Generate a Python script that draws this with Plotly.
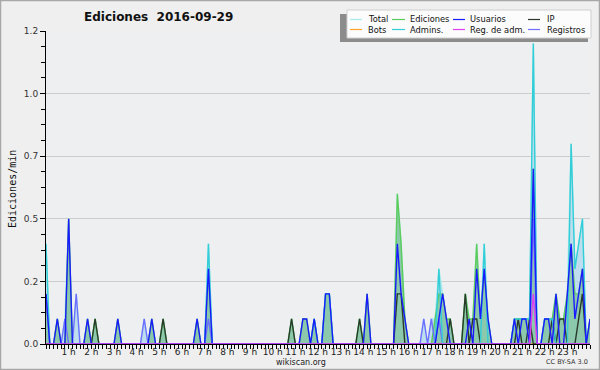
import plotly.graph_objects as go

# ---- data: edits per minute, 10-minute bins from 00:00 to 24:00 (145 points) ----
MINUTES = list(range(0, 1441, 10))
HOUR_TICKS = list(range(1, 24))
HOUR_LABELS = [f"{h} h" for h in HOUR_TICKS]
Y_TICKS = [0, 0.25, 0.5, 0.75, 1.0, 1.25]
Y_LABELS = ["0.0", "0.2", "0.5", "0.7", "1.0", "1.2"]

total = [
    .4, 0, 0, .1, 0, .1, .5, 0, .2, 0, 0, .1,
    0, .1, 0, 0, 0, 0, 0, .1, 0, 0, 0, 0,
    0, 0, .1, 0, .1, 0, 0, .1, 0, 0, 0, 0,
    0, 0, 0, 0, .1, 0, 0, .4, 0, 0, 0, 0,
    0, 0, 0, 0, 0, 0, 0, 0, 0, 0, 0, 0,
    0, 0, 0, 0, 0, .1, 0, 0, .1, .1, 0, .1,
    0, 0, .2, .2, 0, 0, 0, 0, 0, 0, 0, .1,
    0, .2, 0, 0, 0, 0, 0, 0, 0, .6, .4, .1,
    0, 0, 0, 0, .1, 0, .1, .1, .3, .2, .1, .1,
    0, 0, 0, .2, .1, .1, .4, .1, .4, .1, 0, 0,
    0, 0, 0, 0, .1, .1, .1, .1, .1, 1.2, 0, 0,
    .1, .1, .1, .2, .1, .1, .2, .8, .3, .4, .5, 0,
    .1]
ediciones = [
    .2, 0, 0, .1, 0, 0, .5, 0, 0, 0, 0, .1,
    0, .1, 0, 0, 0, 0, 0, .1, 0, 0, 0, 0,
    0, 0, 0, 0, .1, 0, 0, .1, 0, 0, 0, 0,
    0, 0, 0, 0, .1, 0, 0, .3, 0, 0, 0, 0,
    0, 0, 0, 0, 0, 0, 0, 0, 0, 0, 0, 0,
    0, 0, 0, 0, 0, .1, 0, 0, .1, .1, 0, .1,
    0, 0, .2, .2, 0, 0, 0, 0, 0, 0, 0, .1,
    0, .2, 0, 0, 0, 0, 0, 0, 0, .6, .4, .1,
    0, 0, 0, 0, 0, 0, 0, .1, .2, .2, .1, .1,
    0, 0, 0, .2, .1, .1, .4, .1, .3, .1, 0, 0,
    0, 0, 0, 0, .1, .1, .1, .1, .1, .7, 0, 0,
    .1, .1, .1, .2, .1, .1, .2, .4, .2, .2, .3, 0,
    .1]
usuarios = [
    .2, 0, 0, .1, 0, 0, .5, 0, 0, 0, 0, .1,
    0, 0, 0, 0, 0, 0, 0, .1, 0, 0, 0, 0,
    0, 0, 0, 0, .1, 0, 0, 0, 0, 0, 0, 0,
    0, 0, 0, 0, .1, 0, 0, .3, 0, 0, 0, 0,
    0, 0, 0, 0, 0, 0, 0, 0, 0, 0, 0, 0,
    0, 0, 0, 0, 0, 0, 0, 0, .1, .1, 0, .1,
    0, 0, .2, .2, 0, 0, 0, 0, 0, 0, 0, 0,
    0, .2, 0, 0, 0, 0, 0, 0, 0, .4, .2, .1,
    0, 0, 0, 0, 0, 0, 0, 0, .1, .2, .1, 0,
    0, 0, 0, 0, .1, 0, .3, .1, .3, .1, 0, 0,
    0, 0, 0, 0, .1, 0, .1, .1, 0, .7, 0, 0,
    .1, .1, 0, .2, 0, 0, .2, .4, .1, .2, .3, 0,
    .1]
ip = [
    0, 0, 0, 0, 0, 0, 0, 0, 0, 0, 0, 0,
    0, .1, 0, 0, 0, 0, 0, 0, 0, 0, 0, 0,
    0, 0, 0, 0, 0, 0, 0, .1, 0, 0, 0, 0,
    0, 0, 0, 0, 0, 0, 0, 0, 0, 0, 0, 0,
    0, 0, 0, 0, 0, 0, 0, 0, 0, 0, 0, 0,
    0, 0, 0, 0, 0, .1, 0, 0, 0, 0, 0, 0,
    0, 0, 0, 0, 0, 0, 0, 0, 0, 0, 0, .1,
    0, 0, 0, 0, 0, 0, 0, 0, 0, .2, .2, 0,
    0, 0, 0, 0, 0, 0, 0, 0, 0, 0, 0, .1,
    0, 0, 0, .2, 0, .1, .1, 0, 0, 0, 0, 0,
    0, 0, 0, 0, 0, .1, 0, 0, .1, 0, 0, 0,
    0, 0, .1, 0, .1, .1, 0, 0, 0, .1, .2, 0,
    0]
bots = [0] * 145
admins = [
    .4, 0, 0, 0, 0, 0, 0, 0, 0, 0, 0, 0,
    0, 0, 0, 0, 0, 0, 0, 0, 0, 0, 0, 0,
    0, 0, 0, 0, 0, 0, 0, 0, 0, 0, 0, 0,
    0, 0, 0, 0, 0, 0, 0, .4, 0, 0, 0, 0,
    0, 0, 0, 0, 0, 0, 0, 0, 0, 0, 0, 0,
    0, 0, 0, 0, 0, 0, 0, 0, 0, 0, 0, .1,
    0, 0, .2, .2, 0, 0, 0, 0, 0, 0, 0, 0,
    0, 0, 0, 0, 0, 0, 0, 0, 0, 0, 0, 0,
    0, 0, 0, 0, 0, 0, 0, 0, .3, 0, 0, 0,
    0, 0, 0, 0, 0, 0, 0, 0, .4, 0, 0, 0,
    0, 0, 0, 0, .1, .1, .1, .1, .1, 1.2, 0, 0,
    .1, .1, .1, 0, 0, 0, 0, .8, .3, .4, .5, 0,
    0]
reg_adm = [0] * 129 + [.2] + [0] * 15
registros = [
    .2, 0, 0, 0, 0, .1, 0, 0, .2, 0, 0, 0,
    0, 0, 0, 0, 0, 0, 0, 0, 0, 0, 0, 0,
    0, 0, .1, 0, 0, 0, 0, 0, 0, 0, 0, 0,
    0, 0, 0, 0, 0, 0, 0, .1, 0, 0, 0, 0,
    0, 0, 0, 0, 0, 0, 0, 0, 0, 0, 0, 0,
    0, 0, 0, 0, 0, 0, 0, 0, 0, 0, 0, 0,
    0, 0, 0, 0, 0, 0, 0, 0, 0, 0, 0, 0,
    0, 0, 0, 0, 0, 0, 0, 0, 0, 0, 0, 0,
    0, 0, 0, 0, .1, 0, .1, 0, .1, 0, 0, 0,
    0, 0, 0, 0, 0, 0, 0, 0, 0, 0, 0, 0,
    0, 0, 0, 0, 0, 0, 0, 0, 0, .5, 0, 0,
    0, 0, 0, 0, 0, 0, 0, 0, 0, 0, 0, 0,
    0]

LEGEND_LABELS = ["Total", "Ediciones", "Usuarios", "IP",
                 "Bots", "Admins.", "Reg. de adm.", "Registros"]
COLORS = {"Total": "#a6ecec", "Ediciones": "#5ccc5c", "Usuarios": "#1a1aff",
          "IP": "#2a3a2a", "Bots": "#ffa030", "Admins.": "#33cdd8",
          "Reg. de adm.": "#e040f0", "Registros": "#6f6fff"}

hours = [m / 60 for m in MINUTES]

fig = go.Figure()
fig.add_trace(go.Scatter(x=hours, y=total, mode="lines", fill="tozeroy",
                         fillcolor="rgba(178,216,238,0.8)",
                         line=dict(color=COLORS["Total"], width=1.4)))
fig.add_trace(go.Scatter(x=hours, y=ediciones, mode="lines", fill="tozeroy",
                         fillcolor="rgba(80,175,90,0.45)",
                         line=dict(color=COLORS["Ediciones"], width=1.4)))
series = [("Bots", bots), ("IP", ip), ("Registros", registros),
          ("Admins.", admins), ("Usuarios", usuarios), ("Reg. de adm.", reg_adm)]
for name, vals in series:
    fig.add_trace(go.Scatter(x=hours, y=vals, mode="lines",
                             line=dict(color=COLORS[name], width=1.4)))

# pixel helpers for decorations (plot area 46..590 x 31..344)
L, R, T, B = 46, 590, 31, 344
def px(x):
    return (x - L) / (R - L)
def py(y):
    return (B - y) / (B - T)

shapes = []
annotations = []
# outer frame
shapes.append(dict(type="rect", xref="paper", yref="paper", x0=px(0.5), x1=px(599.5),
                   y0=py(369.5), y1=py(0.5), line=dict(color="#a8a8a8", width=1.5)))
# legend shadow and box
shapes.append(dict(type="rect", xref="paper", yref="paper", x0=px(340), x1=px(588),
                   y0=py(42), y1=py(14), fillcolor="#8c8c8c", line=dict(width=0)))
shapes.append(dict(type="rect", xref="paper", yref="paper", x0=px(347), x1=px(591),
                   y0=py(38), y1=py(10), fillcolor="#fcfcfc",
                   line=dict(color="#cfcfcf", width=1)))
col_line = [(350, 362), (392, 405), (453, 465), (528, 540)]
col_text = [366, 408, 468, 545]
row_y = [19.5, 29.5]
for k, name in enumerate(LEGEND_LABELS):
    r, c = divmod(k, 4)
    shapes.append(dict(type="line", xref="paper", yref="paper",
                       x0=px(col_line[c][0]), x1=px(col_line[c][1]),
                       y0=py(row_y[r]), y1=py(row_y[r]),
                       line=dict(color=COLORS[name], width=1.2)))
    annotations.append(dict(text=name, xref="paper", yref="paper", x=px(col_text[c]),
                            y=py(row_y[r]), xanchor="left", yanchor="middle",
                            showarrow=False,
                            font=dict(family="DejaVu Sans", size=8.3, color="#111")))

annotations.append(dict(text="<b>Ediciones\u00a0 2016-09-29</b>", xref="paper", yref="paper",
                        x=px(158), y=py(17), xanchor="center", yanchor="middle",
                        showarrow=False,
                        font=dict(family="DejaVu Sans", size=12, color="#111")))
annotations.append(dict(text="Ediciones/min", xref="paper", yref="paper",
                        x=px(12), y=py(189), xanchor="center", yanchor="middle",
                        textangle=-90, showarrow=False,
                        font=dict(family="DejaVu Sans Mono", size=10, color="#111")))
annotations.append(dict(text="wikiscan.org", xref="paper", yref="paper",
                        x=px(301), y=py(362), xanchor="center", yanchor="middle",
                        showarrow=False,
                        font=dict(family="DejaVu Sans", size=8, color="#222")))
annotations.append(dict(text="CC BY-SA 3.0", xref="paper", yref="paper",
                        x=px(590), y=py(362), xanchor="right", yanchor="middle",
                        showarrow=False,
                        font=dict(family="DejaVu Sans", size=6.5, color="#333")))

fig.update_layout(
    width=600, height=370,
    margin=dict(l=L, r=600 - R, t=T, b=370 - B),
    paper_bgcolor="#efefef", plot_bgcolor="#eeeff1",
    showlegend=False,
    shapes=shapes, annotations=annotations,
    xaxis=dict(range=[0, 24], tickmode="array", tickvals=HOUR_TICKS, ticktext=HOUR_LABELS,
               ticks="outside", ticklen=4, tickwidth=1, tickcolor="#000",
               ticklabelstandoff=-5,
               showline=True, linecolor="#000", linewidth=1, showgrid=False, zeroline=False,
               tickfont=dict(family="DejaVu Sans", size=9, color="#222"),
               minor=dict(tickmode="array", tickvals=[m / 60 for m in MINUTES],
                          ticks="outside", ticklen=4, tickcolor="#000", showgrid=False)),
    yaxis=dict(range=[0, 1.25], tickmode="array", tickvals=Y_TICKS, ticktext=Y_LABELS,
               ticks="outside", ticklen=5, tickwidth=1, tickcolor="#000",
               showline=True, linecolor="#000", linewidth=1,
               showgrid=True, gridcolor="#cdcdcd", gridwidth=1, zeroline=False,
               tickfont=dict(family="DejaVu Sans", size=9, color="#333"),
               minor=dict(tickmode="array",
                          tickvals=[k * 0.0625 for k in range(21)],
                          ticks="outside", ticklen=4, tickcolor="#000", showgrid=False)),
)

fig.write_html("out.html", config={"displayModeBar": False},
               post_script="document.body.style.margin='0';"
                           "document.documentElement.style.overflow='hidden';")
